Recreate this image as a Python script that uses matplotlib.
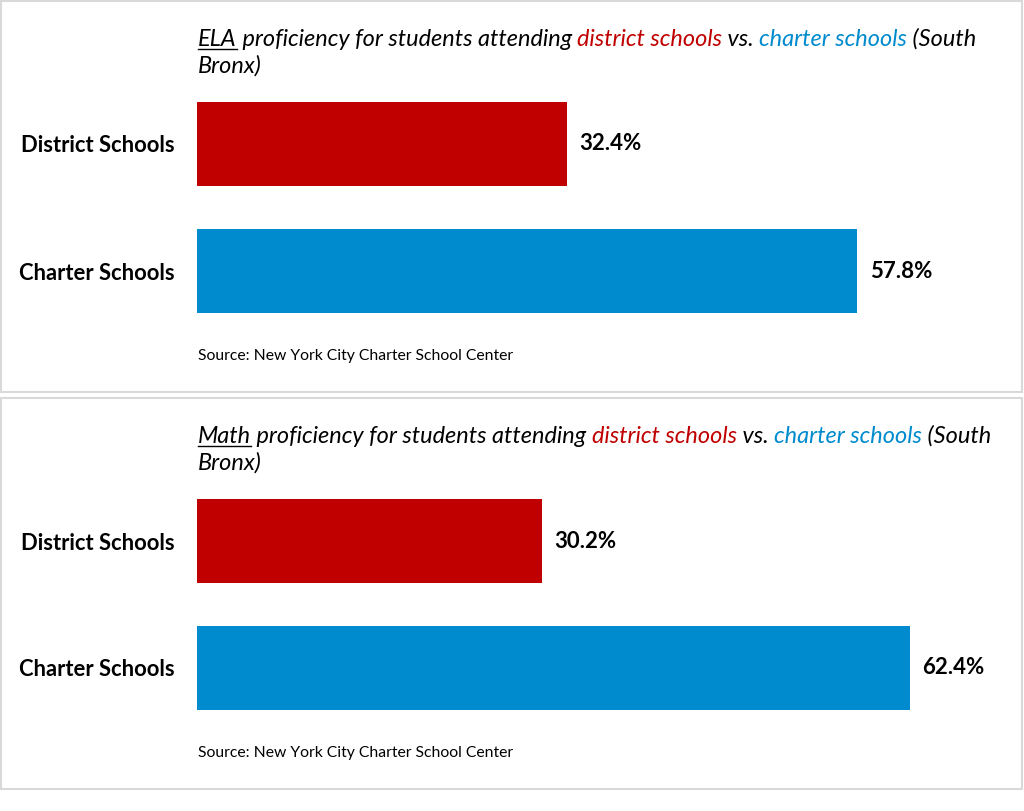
import matplotlib.pyplot as plt
from matplotlib.patches import Rectangle
from matplotlib.lines import Line2D

# data
categories = ["District Schools", "Charter Schools"]
ela_values = [32.4, 57.8]
math_values = [30.2, 62.4]
subjects = ["ELA", "Math"]
source_text = "Source: New York City Charter School Center"

RED = "#C00000"
BLUE = "#008BCE"
bar_colors = [RED, BLUE]

plt.rcParams['font.family'] = ['Lato', 'DejaVu Sans']

W, H = 1024, 811
fig = plt.figure(figsize=(W / 100, H / 100), dpi=100)
renderer = fig.canvas.get_renderer()


def px(x, y):
    # pixel coords (from top-left) -> figure fraction
    return x / W, 1 - y / H


def draw_title(subject, x0, y0):
    pieces = [(subject, "black", True),
              (" proficiency for students attending ", "black", False),
              ("district schools", RED, False),
              (" vs. ", "black", False),
              ("charter schools", BLUE, False),
              (" (South", "black", False)]
    x = x0
    for txt, col, ul in pieces:
        t = fig.text(*px(x, y0), txt, color=col, fontsize=16.9, style="italic",
                     va="baseline", ha="left")
        w = t.get_window_extent(renderer).width
        if ul:
            fig.add_artist(Line2D([x / W, (x + w) / W], [1 - (y0 + 3) / H] * 2,
                                  color="black", lw=1))
        x += w
    fig.text(*px(x0, y0 + 27), "Bronx)", fontsize=16.9, style="italic",
             va="baseline", ha="left")


panels = [ela_values, math_values]
for k, values in enumerate(panels):
    off = 397 * k
    # panel frame
    fig.add_artist(Rectangle(px(1, 392 + off), 1021 / W, 391 / H,
                             transform=fig.transFigure, fill=False,
                             edgecolor="#d9d9d9", lw=1.5))

    draw_title(subjects[k], 198, 46 + off)

    top_px = 144 - 127 * 0.6 + off
    bot_px = 271 + 127 * 0.6 + off
    ax = fig.add_axes([197 / W, 1 - bot_px / H, 70 * 11.42 / W, (bot_px - top_px) / H])
    bars = ax.barh(range(len(categories)), values, height=84 / 127, color=bar_colors)
    ax.set_xlim(0, 70)
    ax.set_ylim(1.6, -0.6)
    ax.set_yticks(range(len(categories)))
    ax.set_yticklabels(categories, fontsize=15.8, fontweight="bold")
    ax.tick_params(axis="y", length=0, pad=16)
    ax.set_xticks([])
    for s in ax.spines.values():
        s.set_visible(False)
    ax.bar_label(bars, labels=[f"{v}%" for v in values], padding=9,
                 fontsize=16, fontweight="bold")
    ax.patch.set_alpha(0)

    fig.text(*px(198, 360 + off), source_text, fontsize=11.3, va="baseline", ha="left")

fig.savefig("out.png", dpi=100)
